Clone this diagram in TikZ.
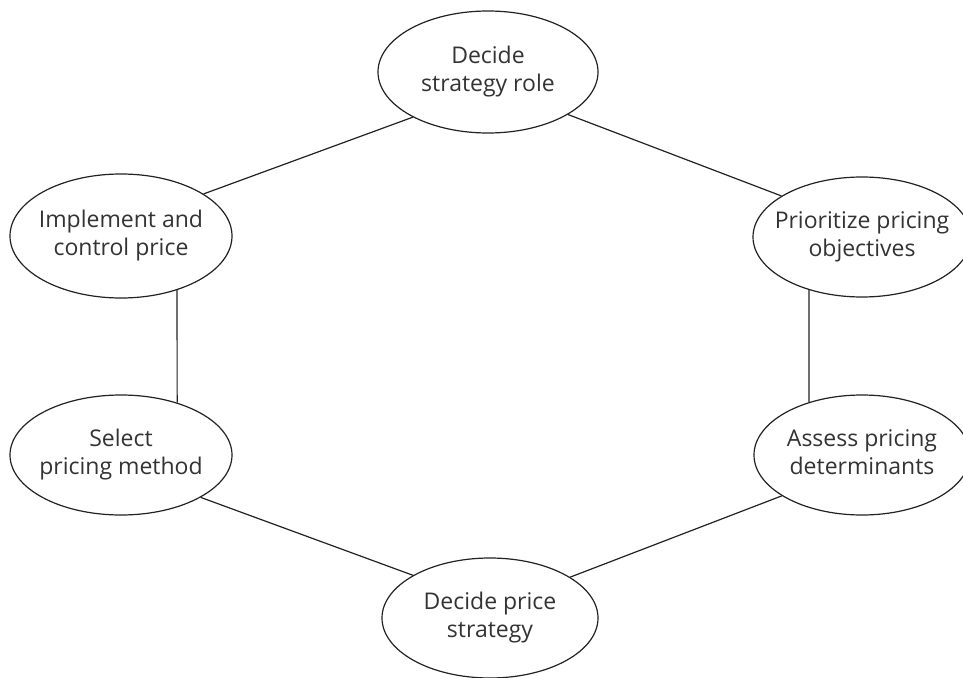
\documentclass[tikz,border=0pt]{standalone}
\usepackage{fontspec}
\setmainfont{Open Sans}
\usetikzlibrary{shapes.geometric}
\definecolor{txt}{HTML}{333333}
\definecolor{ln}{HTML}{222222}
\newcommand{\twol}[2]{\makebox[0pt]{\begin{tabular}{@{}c@{}}#1\\#2\end{tabular}}}
\begin{document}
\begin{tikzpicture}[x=1pt,y=-1pt,
  el/.style={ellipse, draw=ln, line width=1.2pt, inner sep=0pt, text=txt,
    font=\fontsize{23}{28.5}\selectfont},
  conn/.style={draw=ln, line width=1.2pt}]
\useasboundingbox[fill=white] (0,0) rectangle (963,677);
\node[el, minimum width=220, minimum height=122] (top) at (488,72) {\twol{Decide}{strategy role}};
\node[el, minimum width=222, minimum height=124] (impl) at (121,236) {\twol{Implement and}{control price}};
\node[el, minimum width=218, minimum height=120] (prio) at (862,237) {\twol{Prioritize pricing}{objectives}};
\node[el, minimum width=222, minimum height=120] (sel) at (121,455) {\twol{Select}{pricing method}};
\node[el, minimum width=216, minimum height=120] (assess) at (862,455) {\twol{Assess pricing}{determinants}};
\node[el, minimum width=216, minimum height=120] (dec) at (490,618) {\twol{Decide price}{strategy}};
\draw[conn] (top.211) -- (impl.27);
\draw[conn] (top.332) -- (prio.153);
\draw[conn] (impl.316) -- (sel.43);
\draw[conn] (prio.225) -- (assess.135);
\draw[conn] (sel.332) -- (dec.151);
\draw[conn] (assess.207) -- (dec.27);
\end{tikzpicture}
\end{document}
